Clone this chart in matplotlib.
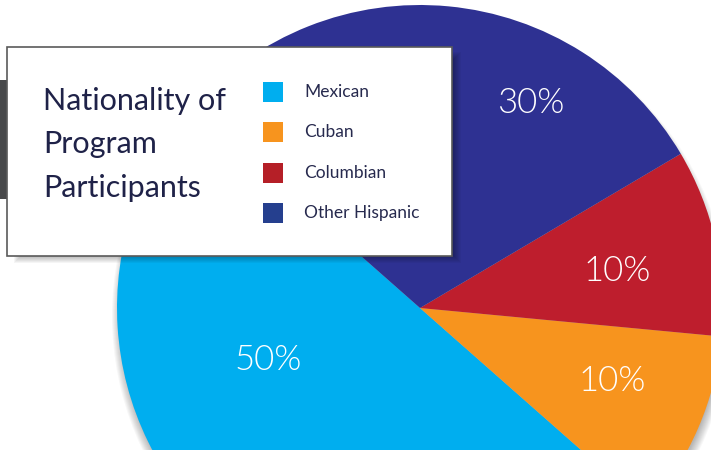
import matplotlib
matplotlib.use("Agg")
import matplotlib.pyplot as plt
from matplotlib.patches import Rectangle, Circle

# Nationality breakdown of program participants
labels = ["Mexican", "Cuban", "Columbian", "Other Hispanic"]
shares = [50, 10, 10, 30]
pie_colors = ["#00aeef", "#f7941e", "#be1e2d", "#2e3192"]
swatch_colors = ["#00aeef", "#f7941e", "#b51f27", "#253f8e"]
title_lines = ["Nationality of", "Program", "Participants"]

W, H = 711, 450
fig = plt.figure(figsize=(W / 100, H / 100), dpi=100)
ax = fig.add_axes([0, 0, 1, 1])

def up(y):
    # convert a top-down pixel row into the axes' bottom-up coordinate
    return H - y

cx, cy, r = 420, up(308), 303

# soft shadow behind the pie, pushed down so it shows on the lower sides
for k in range(10):
    ax.add_patch(Circle((cx + 1, cy - 8), r + 6 - k, color="black",
                        alpha=0.03, lw=0, zorder=0))

wedges, _ = ax.pie(shares, colors=pie_colors, startangle=138.6,
                   counterclock=True, radius=r, center=(cx, cy),
                   wedgeprops=dict(linewidth=0, zorder=1))

# percent labels inside the slices
label_xy = [(268, 360), (612, 381), (617, 271), (531, 103)]
for v, (x, y) in zip(shares, label_xy):
    ax.text(x, up(y), f"{v}%", color="white", fontsize=25,
            family="Lato", fontweight=300, ha="center", va="center",
            zorder=3)

# dark tab on the left edge
ax.add_patch(Rectangle((0, up(199)), 10, 119, color="#47484a", lw=0, zorder=4))

# legend panel with a drop shadow
bx0, by0, bw, bh = 7, up(256), 445, 209
for k in range(10):
    ax.add_patch(Rectangle((bx0 + 16 - k, by0 + 2 - k),
                           bw - 16 + 2 * k, bh - 16 + 2 * k,
                           color="black", alpha=0.04, lw=0, zorder=5))
ax.add_patch(Rectangle((bx0, by0), bw, bh, facecolor="white",
                       edgecolor="#5a5a5a", lw=1.2, zorder=6))

for line, base in zip(title_lines, [110, 153, 197]):
    ax.text(43, up(base), line, fontsize=22, family="Lato",
            color="#1f2248", ha="left", va="baseline", zorder=7)

for i, (name, c) in enumerate(zip(labels, swatch_colors)):
    yc = up(92 + i * 40.3)
    ax.add_patch(Rectangle((263, yc - 10), 20, 20, color=c, lw=0, zorder=7))
    ax.text(304, yc, name, fontsize=12.5, family="Lato", color="#272a4e",
            ha="left", va="center", zorder=7)

ax.set_xlim(0, W)
ax.set_ylim(0, H)
ax.set_aspect("equal")
ax.axis("off")

fig.savefig("out.png", dpi=100)
